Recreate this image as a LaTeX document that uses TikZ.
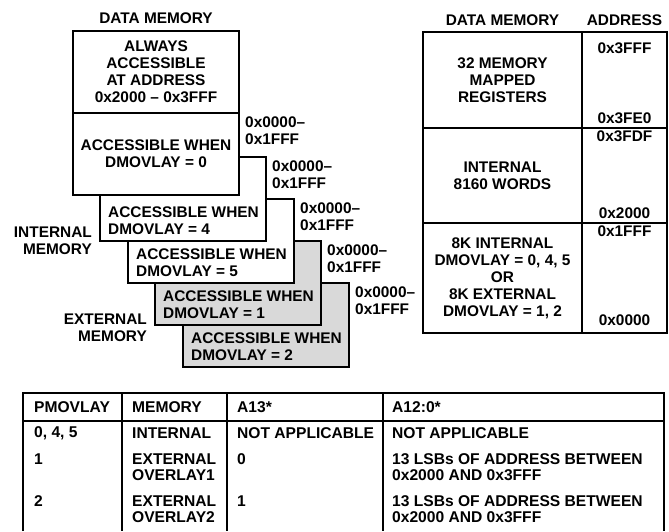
\documentclass[tikz,border=0pt]{standalone}
\usepackage{fontspec}
\setmainfont{Liberation Sans}
\usetikzlibrary{positioning}

\begin{document}
\begin{tikzpicture}[x=1pt, y=-1pt,
        every node/.style={inner sep=0pt, font=\fontsize{15.4}{17}\selectfont\bfseries},
        membox/.style={draw, line width=1.8pt, fill=white, outer sep=0pt, anchor=north west, minimum width=166pt, minimum height=84pt},
        mapcell/.style={draw, line width=1.8pt, outer sep=0pt, anchor=north west, align=center},
        tabtext/.style={anchor=west, align=left, font=\fontsize{15.6}{16.5}\selectfont\bfseries},
        tabline/.style={line width=1.8pt}]
    \useasboundingbox (0,0) rectangle (669,531);

    % Overlay stack, drawn back to front
    \foreach \n/\x/\y/\f in {6/183/283/black!15, 5/155/241/black!15, 4/128/199/white, 3/100/157/white} {
        \node[membox, fill=\f] (b\n) at (\x,\y) {};
    }
    \node[membox, minimum height=82pt, align=center] (b2) at (73,113) {ACCESSIBLE WHEN\\DMOVLAY = 0};
    \node[membox, minimum height=82pt, align=center] (b1) at (73,31) {ALWAYS\\ACCESSIBLE\\AT ADDRESS\\0x2000 -- 0x3FFF};
    \node[above=7pt of b1] (lefttitle) {DATA MEMORY};

    % Labels in the visible part of each overlay box
    \foreach \n/\v in {3/4, 4/5, 5/1, 6/2} {
        \node[anchor=west, align=left] (t\n) at ([shift={(8,-20)}]b\n.south west) {ACCESSIBLE WHEN\\DMOVLAY = \v};
    }

    % Address ranges
    \foreach \n in {2,...,6} {
        \node[anchor=west, align=left] (a\n) at ([shift={(6,18)}]b\n.north east) {0x0000--\\0x1FFF};
    }

    \node[anchor=east, align=right] (intmem) at ([shift={(-8,0)}]b3.south west) {INTERNAL\\MEMORY};
    \node[anchor=east, align=right] (extmem) at ([shift={(-8,3)}]b5.south west) {EXTERNAL\\MEMORY};

    % Memory map
    \node[mapcell, minimum width=159pt, minimum height=96pt] (c1) at (423,32) {32 MEMORY\\MAPPED\\REGISTERS};
    \node[mapcell, minimum width=159pt, minimum height=95pt] (c2) at (423,128) {INTERNAL\\8160 WORDS};
    \node[mapcell, minimum width=159pt, minimum height=110pt] (c3) at (423,223) {8K INTERNAL\\DMOVLAY = 0, 4, 5\\OR\\8K EXTERNAL\\DMOVLAY = 1, 2};
    \node[mapcell, minimum width=85pt, minimum height=96pt] (d1) at (582,32) {};
    \node[mapcell, minimum width=85pt, minimum height=95pt] (d2) at (582,128) {};
    \node[mapcell, minimum width=85pt, minimum height=110pt] (d3) at (582,223) {};
    \node[above=6pt of c1] (righttitle) {DATA MEMORY};
    \node[above=6pt of d1] (addrtitle) {ADDRESS};

    \node (ad1) at ([shift={(0,16)}]d1.north) {0x3FFF};
    \node (ad2) at ([shift={(0,-10)}]d1.south) {0x3FE0};
    \node (ad3) at ([shift={(0,8)}]d2.north) {0x3FDF};
    \node (ad4) at ([shift={(0,-10)}]d2.south) {0x2000};
    \node (ad5) at ([shift={(0,8)}]d3.north) {0x1FFF};
    \node (ad6) at ([shift={(0,-13)}]d3.south) {0x0000};

    % Table
    \draw[tabline] (23,531) -- (23,393) -- (664,393) -- (664,531);
    \draw[tabline] (23,421) -- (664,421);
    \foreach \x in {122,227,383} {
        \draw[tabline] (\x,393) -- (\x,531);
    }

    \node[tabtext] (h1) at (34,407) {PMOVLAY};
    \node[tabtext] (h2) at (132,407) {MEMORY};
    \node[tabtext] (h3) at (237,407) {A13*};
    \node[tabtext] (h4) at (392,407) {A12:0*};

    \node[tabtext] (r1a) at (34,433.5) {0, 4, 5};
    \node[tabtext] (r1b) at (132,433.5) {INTERNAL};
    \node[tabtext] (r1c) at (237,433.5) {NOT APPLICABLE};
    \node[tabtext] (r1d) at (392,433.5) {NOT APPLICABLE};

    \node[tabtext] (r2a) at (34,459) {1};
    \node[tabtext] (r2b) at (132,467) {EXTERNAL\\OVERLAY1};
    \node[tabtext] (r2c) at (237,459) {0};
    \node[tabtext] (r2d) at (392,467) {13 LSBs OF ADDRESS BETWEEN\\0x2000 AND 0x3FFF};

    \node[tabtext] (r3a) at (34,501) {2};
    \node[tabtext] (r3b) at (132,509) {EXTERNAL\\OVERLAY2};
    \node[tabtext] (r3c) at (237,501) {1};
    \node[tabtext] (r3d) at (392,509) {13 LSBs OF ADDRESS BETWEEN\\0x2000 AND 0x3FFF};
\end{tikzpicture}
\end{document}
